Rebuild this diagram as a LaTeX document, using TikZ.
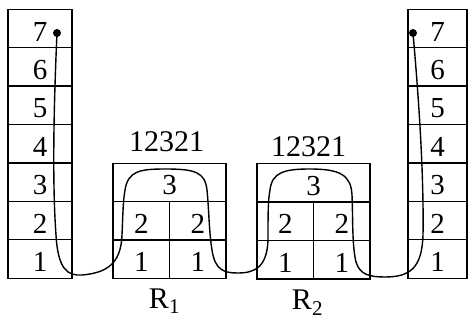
\documentclass[tikz,border=0pt]{standalone}
\usepackage{fontspec}
\setmainfont{Liberation Serif}
\usetikzlibrary{positioning}
\tikzset{
  cellbox/.style={rectangle,draw,line width=1.4pt,inner sep=0pt,outer sep=0pt,
                  minimum height=38.4pt,text height=25pt,text depth=0pt,
                  font=\fontsize{29}{29}\selectfont},
  colcell/.style={cellbox,minimum width=64pt},
  rcell/.style={cellbox,minimum width=59pt},
  wide/.style={cellbox,minimum width=113pt},
  half/.style={cellbox,minimum width=56.5pt},
  seq/.style={inner sep=0pt,font=\fontsize{30}{30}\selectfont},
  endpt/.style={circle,fill,inner sep=0pt,minimum size=8pt},
  wire/.style={line width=1.4pt}
}
\begin{document}
\begin{tikzpicture}[x=1pt,y=-1pt]
  \useasboundingbox (0,0) rectangle (468,320);
  % left and right columns
  \node[colcell] (l1) at (40,259) {1};
  \node[rcell] (r1) at (437.5,259) {1};
  \foreach \i [evaluate=\i as \p using int(\i-1)] in {2,...,7}{
    \node[colcell,above=0pt of l\p] (l\i) {\i};
    \node[rcell,above=0pt of r\p] (r\i) {\i};
  }
  % block R1
  \node[wide] (a3) at (169.5,182.5) {3};
  \node[half,anchor=north west] (a2l) at (a3.south west) {2};
  \node[half,anchor=north east] (a2r) at (a3.south east) {2};
  \node[half,below=0pt of a2l] (a1l) {1};
  \node[half,below=0pt of a2r] (a1r) {1};
  \node[seq,above=11pt of a3,xshift=-3pt] (s1) {12321};
  \node[seq,below=10pt of a1l.south east,xshift=-5pt] (n1) {R\textsubscript{1}};
  % block R2
  \node[wide] (b3) at (313.5,183) {3};
  \node[half,anchor=north west] (b2l) at (b3.south west) {2};
  \node[half,anchor=north east] (b2r) at (b3.south east) {2};
  \node[half,below=0pt of b2l] (b1l) {1};
  \node[half,below=0pt of b2r] (b1r) {1};
  \node[seq,above=7pt of b3,xshift=-5pt] (s2) {12321};
  \node[seq,below=11pt of b1l.south east,xshift=-6pt] (n2) {R\textsubscript{2}};
  % end points and wire
  \node[endpt] (d1) at (57,33) {};
  \node[endpt] (d2) at (413,33) {};
  \draw[wire] (d1.center) .. controls (54,100) and (52,180) .. (56,235)
    .. controls (58,270) and (68,276) .. (82,275)
    .. controls (105,273) and (121,265) .. (122,235)
    .. controls (123,212) and (123,202) .. (125,190)
    .. controls (128,171) and (140,169) .. (165,169)
    .. controls (195,169) and (205,172) .. (207,190)
    .. controls (209,210) and (209,232) .. (212,250)
    .. controls (215,271) and (225,273) .. (238,273)
    .. controls (256,273) and (267,266) .. (268,240)
    .. controls (268,215) and (268,200) .. (270,190)
    .. controls (272,172) and (285,169) .. (310,169)
    .. controls (340,169) and (351,175) .. (352,195)
    .. controls (353,220) and (352,245) .. (356,262)
    .. controls (360,275) and (370,277) .. (385,277)
    .. controls (410,277) and (422,268) .. (423,235)
    .. controls (424,170) and (418,90) .. (d2.center);
\end{tikzpicture}
\end{document}
